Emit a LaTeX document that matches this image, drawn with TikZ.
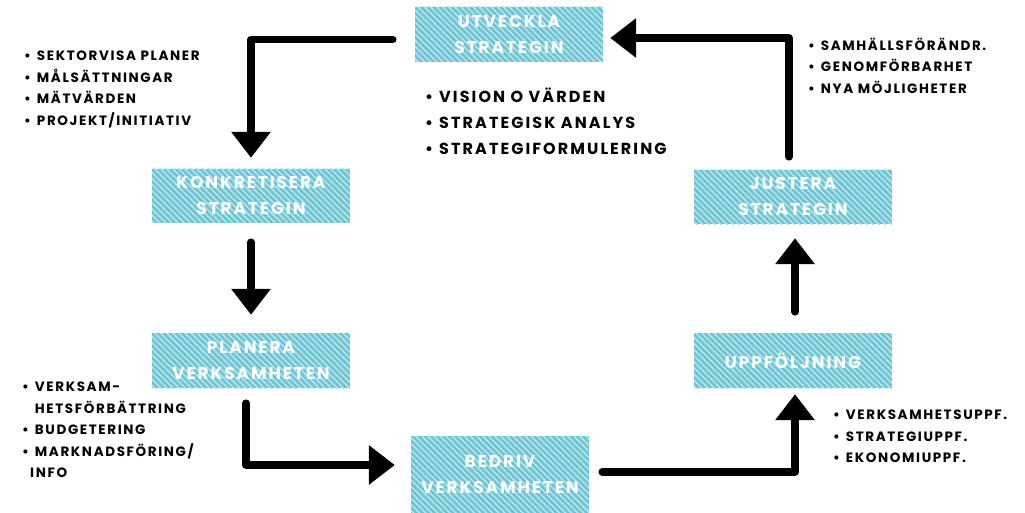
\documentclass[tikz,border=0pt]{standalone}
\usepackage{fontspec}
\usetikzlibrary{arrows.meta,calc,patterns.meta}
\setmainfont{Poppins}
\newfontfamily\boxfont{Poppins Bold}[LetterSpace=11]
\newfontfamily\listfont{Poppins Bold}[LetterSpace=12]
\newfontfamily\biglistfont{Poppins Bold}[LetterSpace=13]
\newcommand\bul{•\hspace{6pt}}
\definecolor{boxbase}{RGB}{108,196,211}
\definecolor{boxstripe}{RGB}{182,228,236}
\tikzset{
  stepbox/.style={rectangle, fill=boxbase, inner sep=0pt,
    postaction={pattern={Lines[angle=-45,distance=4.3pt,line width=1.6pt]}, pattern color=boxstripe},
    text=white, align=center,
    font=\boxfont\fontsize{17}{26}\selectfont},
  flow/.style={line width=7.5pt, line cap=round, line join=round,
    -{Triangle[width=38pt,length=26pt]}},
  bullets/.style={inner sep=0pt, align=left, anchor=base west,
    font=\listfont\fontsize{13.5}{21.5}\selectfont},
  bigbullets/.style={bullets, font=\biglistfont\fontsize{16}{26}\selectfont}
}
\begin{document}
\begin{tikzpicture}[x=1pt,y=-1pt]
\useasboundingbox (0,0) rectangle (1025,513);

% process steps
\node[stepbox, minimum width=188pt, minimum height=55pt] (utv) at (509,34.5) {UTVECKLA\\STRATEGIN};
\node[stepbox, minimum width=198pt, minimum height=54pt] (konk) at (251,196) {KONKRETISERA\\STRATEGIN};
\node[stepbox, minimum width=198pt, minimum height=55pt] (plan) at (251,360.5) {PLANERA\\VERKSAMHETEN};
\node[stepbox, minimum width=178pt, minimum height=77pt] (bed) at (500,474.5) {BEDRIV\\VERKSAMHETEN};
\node[stepbox, minimum width=198pt, minimum height=55pt] (upp) at (793,360.5) {UPPFÖLJNING};
\node[stepbox, minimum width=198pt, minimum height=54pt] (jus) at (793,197) {JUSTERA\\STRATEGIN};

% connectors of the cycle
\draw[flow] ($(utv.west)+(-22,5)$) -| ($(konk.north)+(0,-11)$);
\draw[flow] ($(konk.south)+(0,19)$) -- ($(plan.north)+(0,-18)$);
\draw[flow] ($(plan.south)+(-5,15)$) |- ($(bed.west)+(-16,-9.5)$);
\draw[flow] ($(bed.east)+(13,-2.5)$) -| ($(upp.south)+(2,6)$);
\draw[flow] ($(upp.north)+(2,-21)$) -- ($(jus.south)+(2,14)$);
\draw[flow] ($(jus.north)+(-4,-13)$) |- ($(utv.east)+(7,3.5)$);

% activity lists (anchored at the baseline of their last line)
\node[bullets] (lkonk) at (24,125.5) {\bul SEKTORVISA PLANER\\\bul MÅLSÄTTNINGAR\\\bul MÄTVÄRDEN\\\bul PROJEKT/INITIATIV};
\node[bigbullets] (lutv) at (425,155) {\bul VISION O VÄRDEN\\\bul STRATEGISK ANALYS\\\bul STRATEGIFORMULERING};
\node[bullets] (ljus) at (808,93.5) {\bul SAMHÄLLSFÖRÄNDR.\\\bul GENOMFÖRBARHET\\\bul NYA MÖJLIGHETER};
\node[bullets] (lplan) at (22,477.5) {\bul VERKSAM-\\\hphantom{\bul}HETSFÖRBÄTTRING\\\bul BUDGETERING\\\bul MARKNADSFÖRING/\\\hspace{8pt}INFO};
\node[bullets] (lupp) at (833,462.5) {\bul VERKSAMHETSUPPF.\\\bul STRATEGIUPPF.\\\bul EKONOMIUPPF.};
\end{tikzpicture}
\end{document}
